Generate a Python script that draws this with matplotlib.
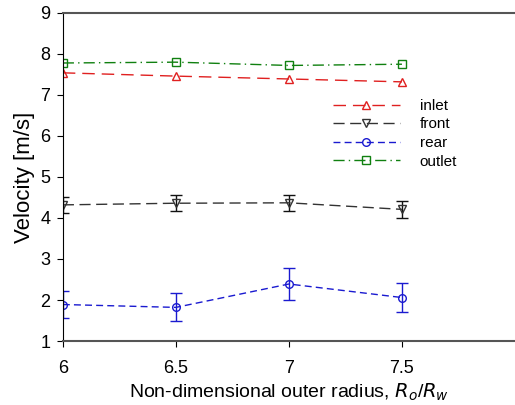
import matplotlib
matplotlib.use("Agg")
import matplotlib.pyplot as plt

plt.rcParams['font.family'] = ['Liberation Sans', 'DejaVu Sans']

# data
radius = [6.0, 6.5, 7.0, 7.5]
inlet = [7.54, 7.46, 7.39, 7.32]
front = [4.32, 4.36, 4.37, 4.21]
front_err = [0.20, 0.20, 0.20, 0.20]
rear = [1.89, 1.82, 2.39, 2.06]
rear_err = [0.34, 0.34, 0.40, 0.35]
outlet = [7.78, 7.80, 7.72, 7.75]

fig = plt.figure(figsize=(5.15, 4.05), dpi=100)
ax = fig.add_axes([0.122, 0.158, 0.878, 0.81])

# error bars first, lines on top (kept out of the legend)
ax.errorbar(radius, front, yerr=front_err, fmt="none", ecolor="#111111",
            elinewidth=1.0, capsize=4)
ax.errorbar(radius, rear, yerr=rear_err, fmt="none", ecolor="#1a1ad0",
            elinewidth=1.0, capsize=4)

ms = 5.5
ax.plot(radius, inlet, color="#e02020", linestyle=(0, (9, 5)), linewidth=1.0,
        marker="^", markersize=ms, markerfacecolor="none", label="inlet")
ax.plot(radius, front, color="#333333", linestyle=(0, (8, 4)), linewidth=1.0,
        marker="v", markersize=ms, markerfacecolor="none", label="front")
ax.plot(radius, rear, color="#1a1ad0", linestyle=(0, (5, 3)), linewidth=1.0,
        marker="o", markersize=ms, markerfacecolor="none", label="rear")
ax.plot(radius, outlet, color="#108010", linestyle=(0, (8, 3, 1, 3)), linewidth=1.0,
        marker="s", markersize=ms, markerfacecolor="none", label="outlet")

ax.set_xlim(6, 8)
ax.set_ylim(1, 9)
ax.set_xticks([6, 6.5, 7, 7.5])
ax.set_xticklabels(["6", "6.5", "7", "7.5"])
ax.set_yticks(range(1, 10))
ax.tick_params(direction="out", length=4, labelsize=13)
ax.tick_params(axis="x", pad=10)
ax.tick_params(axis="y", pad=5)

ax.spines["right"].set_visible(False)
ax.spines["top"].set_color("#555555")
ax.spines["top"].set_linewidth(1.5)
ax.spines["bottom"].set_color("#555555")
ax.spines["bottom"].set_linewidth(1.5)

ax.set_ylabel("Velocity [m/s]", fontsize=16, labelpad=4)
ax.set_xlabel("Non-dimensional outer radius, $R_o$/$R_w$", fontsize=14, labelpad=3)

ax.legend(loc="upper left", bbox_to_anchor=(0.597, 0.738), frameon=False, fontsize=11,
          handlelength=4.4, handletextpad=1.3, labelspacing=0.3,
          borderpad=0, borderaxespad=0)

fig.savefig("out.png", dpi=100)
